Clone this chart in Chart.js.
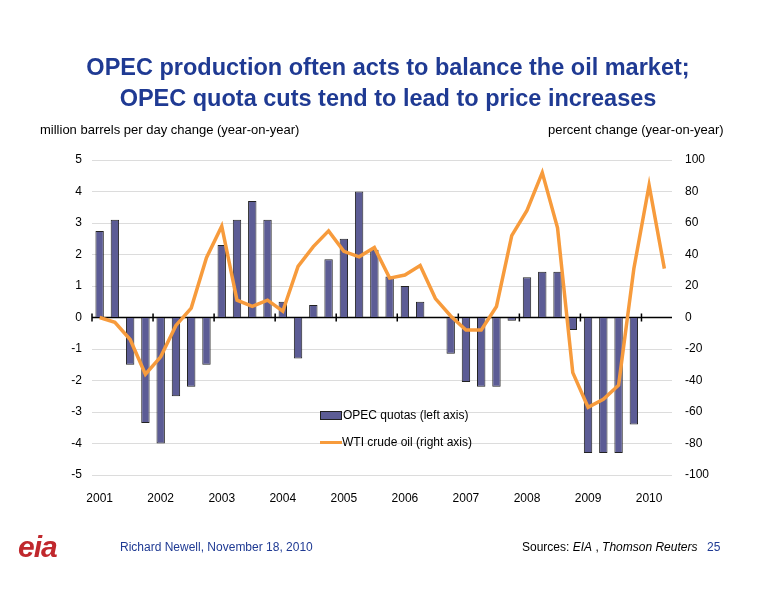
<!DOCTYPE html>
<html>
<head>
<meta charset="utf-8">
<script src="https://cdn.jsdelivr.net/npm/chart.js@4"></script>
<style>
body { margin: 0; background: #fff; font-family: "Liberation Sans", Arial, sans-serif; }
#wrap { position: relative; width: 776px; height: 600px; }
canvas { position: absolute; left: 0; top: 0; }
.t { position: absolute; white-space: nowrap; }
#title { left: 0; width: 776px; top: 52px; text-align: center; color: #1f3a93; font-weight: bold; font-size: 23.5px; line-height: 31px; }
.ax { top: 122px; font-size: 13px; color: #000; }
.leg { font-size: 12px; color: #000; }
.foot { top: 540px; font-size: 12px; }
</style>
</head>
<body>
<div id="wrap">
<canvas id="c" width="776" height="600"></canvas>
<div id="title" class="t">OPEC production often acts to balance the oil market;<br>OPEC quota cuts tend to lead to price increases</div>
<div class="t ax" style="left:40px">million barrels per day change (year-on-year)</div>
<div class="t ax" style="left:548px">percent change (year-on-year)</div>
<div class="t leg" style="left:320px;top:408px"><span style="display:inline-block;width:20px;height:7px;background:#5c5c95;border:1px solid #222;vertical-align:middle;margin-right:1px"></span>OPEC quotas (left axis)</div>
<div class="t leg" style="left:320px;top:435px"><span style="display:inline-block;width:22px;height:3px;background:#f79b3c;vertical-align:middle"></span>WTI crude oil (right axis)</div>
<div class="t" style="left:18px;top:530px;font-size:30px;font-weight:bold;font-style:italic;color:#c0282d;letter-spacing:-1px">eia</div>
<div class="t foot" style="left:120px;color:#1f3a93">Richard Newell, November 18, 2010</div>
<div class="t foot" style="left:522px">Sources: <i>EIA</i> , <i>Thomson Reuters</i></div>
<div class="t foot" style="left:707px;color:#1f3a93">25</div>
</div>
<script>
const years = ['2001','2002','2003','2004','2005','2006','2007','2008','2009','2010'];
// quarterly, 2001Q1 .. 2010Q2
const opecQuotas = [
  2.75, 3.1, -1.5, -3.35,
  -4.0, -2.5, -2.2, -1.5,
  2.3, 3.1, 3.7, 3.1,
  0.5, -1.3, 0.4, 1.85,
  2.5, 4.0, 2.15, 1.3,
  1.0, 0.5, 0, -1.15,
  -2.05, -2.2, -2.2, -0.1,
  1.28, 1.45, 1.45, -0.4,
  -4.3, -4.3, -4.3, -3.4,
  0, 0
];
const wtiChange = [
  0, -3, -14, -36,
  -25, -5, 6, 38,
  58, 11, 7, 11,
  4, 32.5, 45, 55,
  42, 38.5, 44.5, 25,
  27, 33, 12, 1,
  -8, -8, 7, 52,
  68, 92, 57, -35,
  -57, -52, -43, 31,
  84, 31
];
const leftTicks = [-5, -4, -3, -2, -1, 0, 1, 2, 3, 4, 5];
const rightTicks = [-100, -80, -60, -40, -20, 0, 20, 40, 60, 80, 100];

const labels = opecQuotas.map((v, i) => i % 4 === 0 ? years[i / 4] : '');

// zero line with a tick at each year boundary
const zeroLine = {
    id: 'zeroLine',
    beforeDatasetsDraw(chart) {
        const { ctx, chartArea, scales } = chart;
        const y0 = scales.y.getPixelForValue(0);
        const step = scales.x.getPixelForValue(1) - scales.x.getPixelForValue(0);
        ctx.save();
        ctx.strokeStyle = '#000';
        ctx.lineWidth = 1.5;
        ctx.beginPath();
        ctx.moveTo(chartArea.left, y0);
        ctx.lineTo(chartArea.right, y0);
        for (let i = 0; i < labels.length; i += 4) {
            const x = scales.x.getPixelForValue(i) - step / 2;
            ctx.moveTo(x, y0 - 4);
            ctx.lineTo(x, y0 + 4);
        }
        ctx.stroke();
        ctx.restore();
    }
};

new Chart(document.getElementById('c').getContext('2d'), {
    data: {
        labels: labels,
        datasets: [{
            type: 'line',
            label: 'WTI crude oil (right axis)',
            data: wtiChange,
            yAxisID: 'y2',
            borderColor: '#f79b3c',
            borderWidth: 3.5,
            pointRadius: 0,
            tension: 0,
            order: 0
        }, {
            type: 'bar',
            label: 'OPEC quotas (left axis)',
            data: opecQuotas,
            yAxisID: 'y',
            backgroundColor: '#5c5c95',
            borderColor: '#222',
            borderWidth: 1,
            barPercentage: 0.55,
            categoryPercentage: 1,
            order: 1
        }]
    },
    options: {
        responsive: false,
        animation: false,
        layout: { padding: { top: 160, left: 0, right: 0, bottom: 0 } },
        plugins: { legend: { display: false }, tooltip: { enabled: false } },
        scales: {
            x: {
                offset: true,
                grid: { display: false },
                border: { display: false },
                ticks: { autoSkip: false, maxRotation: 0, padding: 8, color: '#000', font: { size: 12, family: 'Liberation Sans' } },
                afterFit(s) { s.height = 125; }
            },
            y: {
                position: 'left',
                min: -5, max: 5,
                afterBuildTicks(s) { s.ticks = leftTicks.map(v => ({ value: v })); },
                grid: { color: '#dcdcdc', drawTicks: false },
                border: { display: false },
                ticks: { padding: 10, color: '#000', font: { size: 12, family: 'Liberation Sans' } },
                afterFit(s) { s.width = 92; }
            },
            y2: {
                position: 'right',
                min: -100, max: 100,
                afterBuildTicks(s) { s.ticks = rightTicks.map(v => ({ value: v })); },
                grid: { display: false, drawTicks: false },
                border: { display: false },
                ticks: { padding: 13, color: '#000', font: { size: 12, family: 'Liberation Sans' } },
                afterFit(s) { s.width = 104; }
            }
        }
    },
    plugins: [zeroLine]
});
</script>
</body>
</html>
